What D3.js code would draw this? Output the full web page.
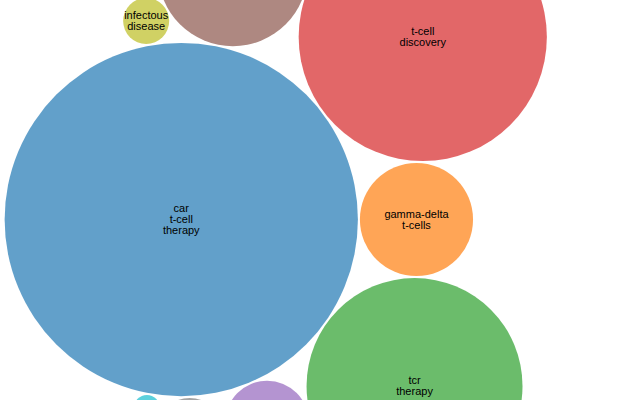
<!DOCTYPE html>
<html><head><meta charset="utf-8">
<script src="https://cdn.jsdelivr.net/npm/d3@7"></script>
<style>html,body{margin:0;padding:0;background:#fff;overflow:hidden}</style>
</head><body>
<script>
// Categories in data order (colour order of d3.schemeCategory10); unlabeled bubbles have no visible name
const categories = ["car t-cell therapy", "gamma-delta t-cells", "tcr therapy", "t-cell discovery", "", "", "", "", "infectous disease", ""];
const values = [312, 32, 116.6, 154, 17.6, 56, 0, 11.6, 5.3, 1.69];

const width = 640, height = 400;
const svg = d3.select("body").append("svg")
  .attr("width", width).attr("height", height)
  .style("font", "11px Arial, 'Liberation Sans', sans-serif");

const color = d3.scaleOrdinal(d3.range(categories.length), d3.schemeCategory10);
const data = categories.map((name, i) => ({name, value: values[i], idx: i}));
const root = d3.hierarchy({children: data}).sum(d => d.value || 0);
d3.pack().size([642, 396]).radius(d => Math.sqrt(d.value) * 10).padding(2)(root);

const node = svg.selectAll("g").data(root.leaves()).join("g")
  .attr("transform", d => `translate(${d.x},${d.y})`);

node.append("circle")
  .attr("r", d => d.r)
  .attr("fill", d => color(d.data.idx))
  .attr("fill-opacity", 0.7);

const text = node.filter(d => d.data.name).append("text")
  .attr("text-anchor", "middle")
  .attr("fill", "#000");
text.selectAll("tspan").data(d => d.data.name.split(" ")).join("tspan")
  .attr("x", 0)
  .attr("y", (t, i, nodes) => `${i - (nodes.length - 1) / 2 + 0.35}em`)
  .text(t => t);
</script>
</body></html>
